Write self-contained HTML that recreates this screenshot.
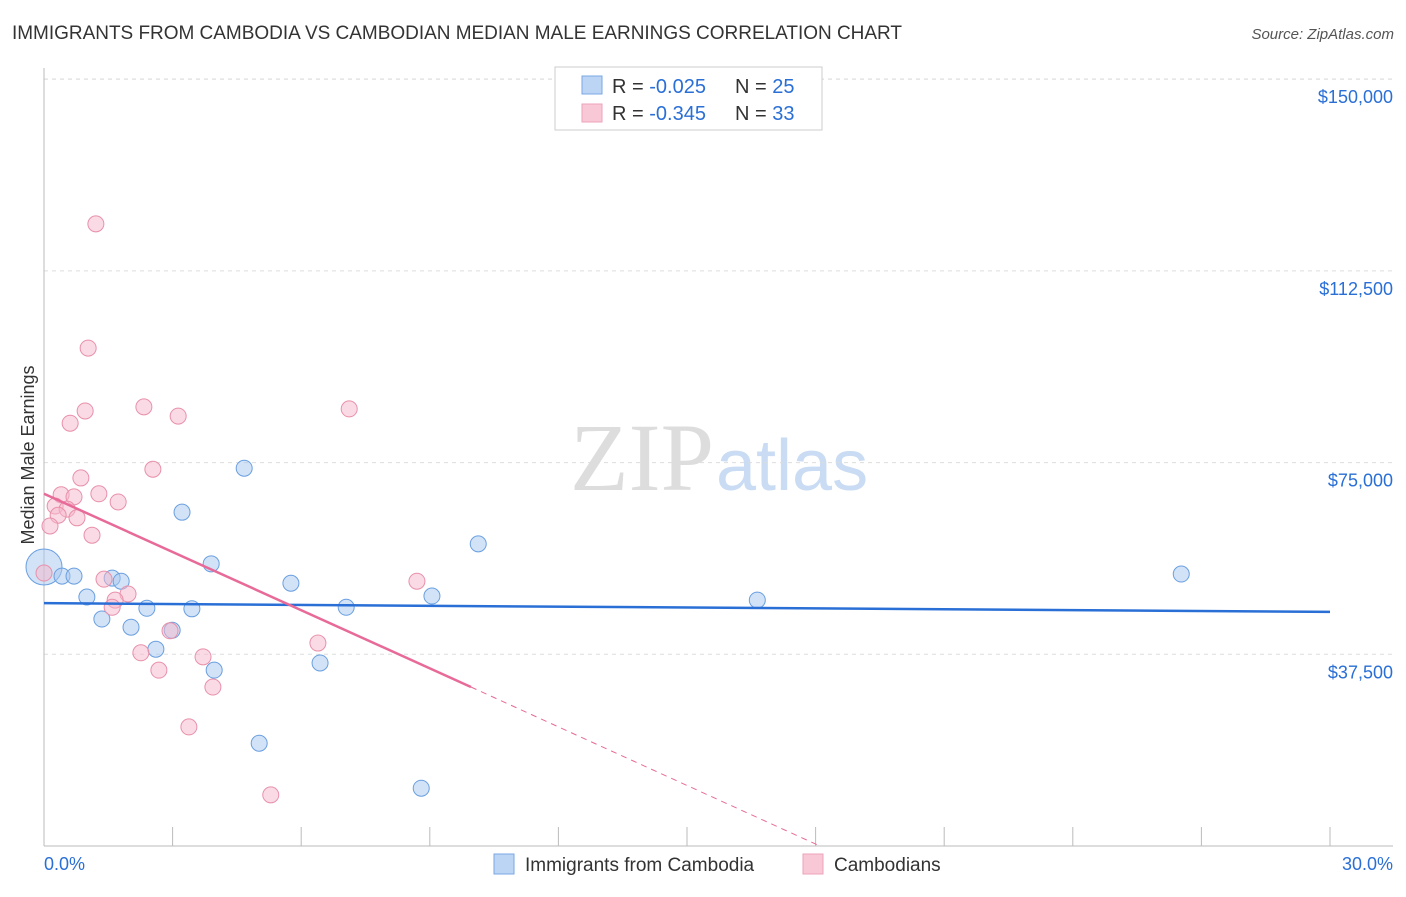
<!DOCTYPE html>
<html><head><meta charset="utf-8"><style>
body{margin:0;background:#fff;font-family:"Liberation Sans",sans-serif;}
</style></head><body>
<svg width="1406" height="892" xmlns="http://www.w3.org/2000/svg" style="font-family:'Liberation Sans',sans-serif">
<text x="12" y="39" font-size="19" fill="#333" textLength="890">IMMIGRANTS FROM CAMBODIA VS CAMBODIAN MEDIAN MALE EARNINGS CORRELATION CHART</text>
<text x="1394" y="39" font-size="15" fill="#555" font-style="italic" text-anchor="end">Source: ZipAtlas.com</text>
<text x="714" y="490" font-size="96" fill="#ddd" text-anchor="end" font-family="Liberation Serif">ZIP</text>
<text x="716" y="490" font-size="72" fill="#c9dcf3">atlas</text>
<g id="grid"></g>
<g id="axes"></g>
<g id="marks"></g>
<text transform="translate(34,455) rotate(-90)" font-size="18" fill="#333" text-anchor="middle">Median Male Earnings</text>
<text x="44" y="870" font-size="18" fill="#2a6fd6">0.0%</text>
<text x="1393" y="870" font-size="18" fill="#2a6fd6" text-anchor="end">30.0%</text>
<g>
<rect x="555" y="67" width="267" height="63" fill="#fff" stroke="#ccc"/>
<rect x="582" y="76" width="20" height="18" fill="#bcd5f5" stroke="#7aa7e3"/>
<rect x="582" y="104" width="20" height="18" fill="#f9c8d7" stroke="#eda2ba"/>
<text x="612" y="93" font-size="20" fill="#333">R = <tspan fill="#2a6fd6">-0.025</tspan><tspan x="735">N = </tspan><tspan fill="#2a6fd6">25</tspan></text>
<text x="612" y="120" font-size="20" fill="#333">R = <tspan fill="#2a6fd6">-0.345</tspan><tspan x="735">N = </tspan><tspan fill="#2a6fd6">33</tspan></text>
</g>
<g>
<rect x="494" y="854" width="20" height="20" fill="#bcd5f5" stroke="#7aa7e3"/>
<text x="525" y="871" font-size="19" fill="#333">Immigrants from Cambodia</text>
<rect x="803" y="854" width="20" height="20" fill="#f9c8d7" stroke="#eda2ba"/>
<text x="834" y="871" font-size="19" fill="#333">Cambodians</text>
</g>
</svg>
<script>
const yTicks=[37500,75000,112500,150000];
const yTickLabels=["$37,500","$75,000","$112,500","$150,000"];
const xTicks=[0,3,6,9,12,15,18,21,24,27,30];
const blueX=[0,0.42,0.70,1.00,1.35,1.59,1.80,2.03,2.40,2.61,2.99,3.22,3.45,3.90,3.97,4.67,5.02,5.76,6.44,7.05,8.80,9.05,10.13,16.64,26.53];
const blueY=[54575,52800,52800,48700,44400,52400,51800,42800,46500,38500,42200,65300,46400,55200,34400,73900,20100,51400,35800,46700,11300,48900,59100,48100,53200];
const pinkX=[1.21,1.03,0.96,0.61,2.33,3.13,7.12,2.54,0.86,0.40,0.70,1.28,1.73,0.26,0.54,0.33,0.77,0.14,1.12,0,1.40,8.70,1.96,1.66,1.59,2.26,2.94,3.71,2.68,3.94,6.39,3.38,5.29];
const pinkY=[121700,97400,85100,82700,85900,84100,85500,73700,72000,68700,68300,68900,67300,66500,65900,64700,64200,62600,60800,53400,52200,51800,49300,48100,46700,37800,42100,37000,34400,31100,39700,23300,10000];
const blueTrend=[[0,47500],[30,45800]];
const pinkTrend=[[0,68900],[9.96,31100]];
const pinkDash=[[9.96,31100],[18.1,0]];
const NS="http://www.w3.org/2000/svg";
const X=v=>44+v/30*1286, Y=v=>846-v/37500*191.7;
function mk(p,t,a){const e=document.createElementNS(NS,t);for(const k in a)e.setAttribute(k,a[k]);document.getElementById(p).appendChild(e);return e;}
yTicks.forEach((t,i)=>{
 const l=mk('grid','line',{x1:44,x2:1393,y1:Y(t),y2:Y(t),stroke:'#ddd','stroke-dasharray':'4,4'});
 
 
 const tx=mk('grid','text',{x:1393,y:Y(t)-550/37500*0+ -184+24+184,'font-size':18,fill:'#2a6fd6','text-anchor':'end'});
 tx.textContent=yTickLabels[i];
 
 
});
const topLine=mk('grid','line',{x1:44,x2:1393,y1:79,y2:79,stroke:'#ddd','stroke-dasharray':'4,4'});


const ya=mk('axes','line',{x1:44,x2:44,y1:68,y2:846,stroke:'#bbb'});


const xa=mk('axes','line',{x1:44,x2:1393,y1:846,y2:846,stroke:'#bbb'});


xTicks.forEach(t=>{const l=mk('axes','line',{x1:X(t),x2:X(t),y1:827,y2:846,stroke:'#bbb'});
 
 });
blueX.forEach((x,i)=>{const c=mk('marks','circle',{cx:X(x),cy:Y(blueY[i]),r:i==0?18:8,fill:'rgba(168,200,240,0.5)',stroke:'#6a9fe0','stroke-width':1});
 
 });
pinkX.forEach((x,i)=>{const c=mk('marks','circle',{cx:X(x),cy:Y(pinkY[i]),r:8,fill:'rgba(245,184,203,0.5)',stroke:'#e890aa','stroke-width':1});
 
 });
const bl=mk('marks','line',{x1:X(blueTrend[0][0]),y1:Y(blueTrend[0][1]),x2:X(blueTrend[1][0]),y2:Y(blueTrend[1][1]),stroke:'#2a6fd6','stroke-width':2.5});


const pl=mk('marks','line',{x1:X(pinkTrend[0][0]),y1:Y(pinkTrend[0][1]),x2:X(pinkTrend[1][0]),y2:Y(pinkTrend[1][1]),stroke:'#e86a98','stroke-width':2.5});


const pd=mk('marks','line',{x1:X(pinkDash[0][0]),y1:Y(pinkDash[0][1]),x2:X(pinkDash[1][0]),y2:Y(pinkDash[1][1]),stroke:'#e86a98','stroke-width':1,'stroke-dasharray':'6,5'});


</script>
</body></html>
